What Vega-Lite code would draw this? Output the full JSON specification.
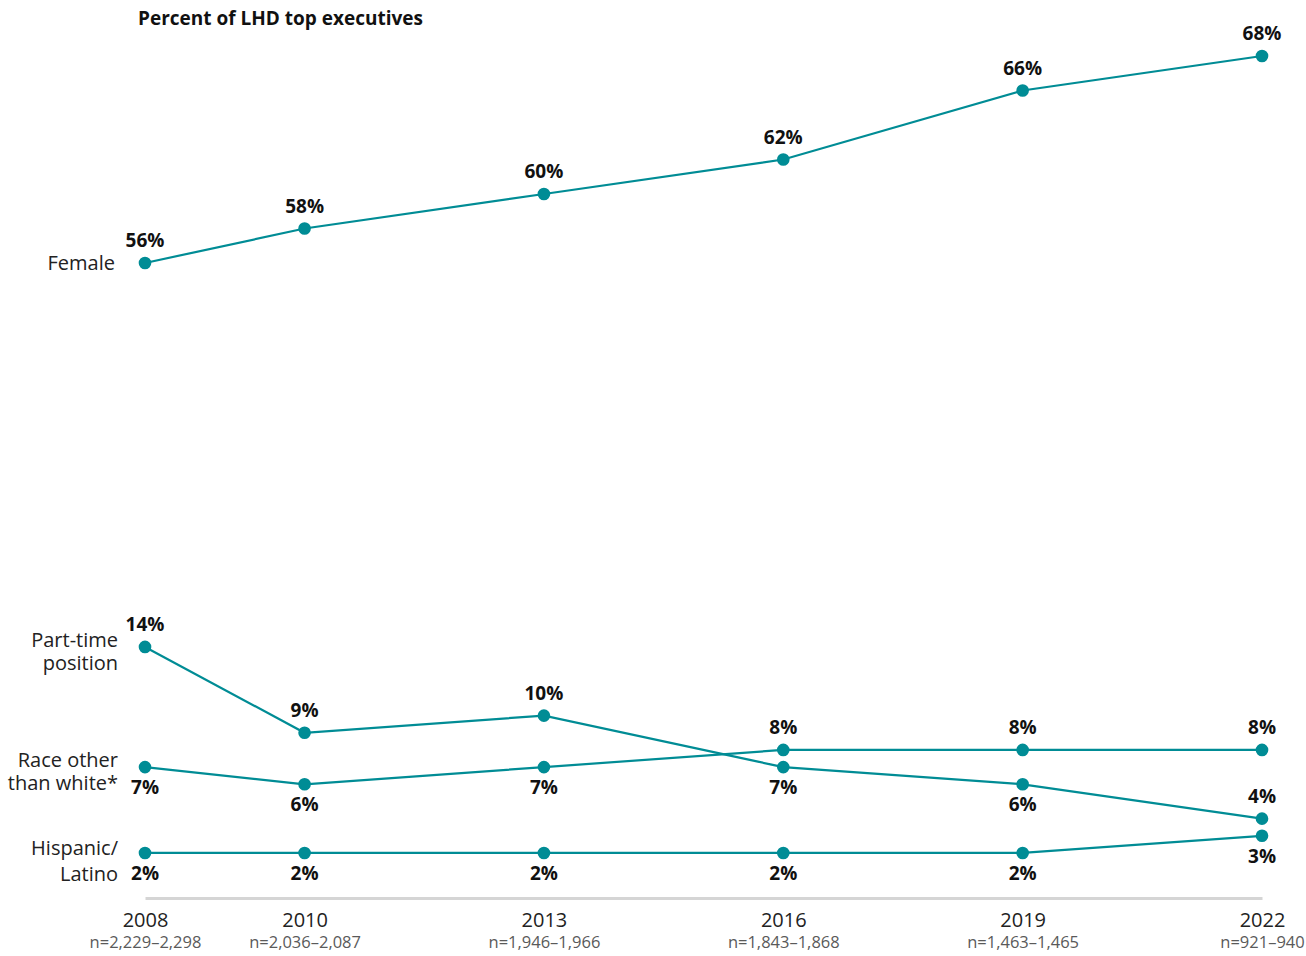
{
  "$schema": "https://vega.github.io/schema/vega-lite/v6.json",
  "autosize": {"type": "none"},
  "padding": {"left": 145, "right": 44, "top": 40, "bottom": 58},
  "width": 1117,
  "height": 858,
  "title": {"text": "Percent of LHD top executives", "anchor": "start", "frame": "group", "fontSize": 19, "fontWeight": "bold", "font": "Open Sans", "color": "#111", "dx": -7, "offset": -4},
  "config": {"view": {"stroke": null}, "font": "Open Sans", "text": {"font": "Open Sans"}},
  "datasets": {
    "main": [
      {"series": "Female", "year": 2008, "value": 56},
      {"series": "Female", "year": 2010, "value": 58},
      {"series": "Female", "year": 2013, "value": 60},
      {"series": "Female", "year": 2016, "value": 62},
      {"series": "Female", "year": 2019, "value": 66},
      {"series": "Female", "year": 2022, "value": 68},
      {"series": "Part-time\nposition", "year": 2008, "value": 14},
      {"series": "Part-time\nposition", "year": 2010, "value": 9},
      {"series": "Part-time\nposition", "year": 2013, "value": 10},
      {"series": "Part-time\nposition", "year": 2016, "value": 7},
      {"series": "Part-time\nposition", "year": 2019, "value": 6},
      {"series": "Part-time\nposition", "year": 2022, "value": 4},
      {"series": "Race other\nthan white*", "year": 2008, "value": 7},
      {"series": "Race other\nthan white*", "year": 2010, "value": 6},
      {"series": "Race other\nthan white*", "year": 2013, "value": 7},
      {"series": "Race other\nthan white*", "year": 2016, "value": 8},
      {"series": "Race other\nthan white*", "year": 2019, "value": 8},
      {"series": "Race other\nthan white*", "year": 2022, "value": 8},
      {"series": "Hispanic/\nLatino", "year": 2008, "value": 2},
      {"series": "Hispanic/\nLatino", "year": 2010, "value": 2},
      {"series": "Hispanic/\nLatino", "year": 2013, "value": 2},
      {"series": "Hispanic/\nLatino", "year": 2016, "value": 2},
      {"series": "Hispanic/\nLatino", "year": 2019, "value": 2},
      {"series": "Hispanic/\nLatino", "year": 2022, "value": 3}
    ]
  },
  "data": {"name": "main"},
  "resolve": {"axis": {"x": "independent"}},
  "encoding": {
    "x": {"field": "year", "type": "quantitative",
      "scale": {"domain": [2008, 2022], "nice": false, "zero": false},
      "axis": null},
    "y": {"field": "value", "type": "quantitative",
      "scale": {"domain": [0, 16, 54, 68], "range": [847.3, 572.6, 257.5, 16], "nice": false, "zero": false, "clamp": false},
      "axis": null}
  },
  "layer": [
    {"mark": {"type": "line", "color": "#008C95", "strokeWidth": 2.2},
      "encoding": {"detail": {"field": "series"},
        "x": {"field": "year", "type": "quantitative",
          "scale": {"domain": [2008, 2022], "nice": false, "zero": false},
          "axis": {"orient": "bottom", "values": [2008, 2010, 2013, 2016, 2019, 2022], "format": "d", "title": null, "grid": false, "ticks": false,
            "domainColor": "#d5d5d5", "domainWidth": 3, "labelFontSize": 20, "labelColor": "#222", "labelPadding": 12, "labelFont": "Open Sans", "labelOverlap": false, "labelFlush": false}}}},
    {"mark": {"type": "circle", "color": "#008C95", "opacity": 1, "size": 160},
      "encoding": {
        "x": {"field": "year", "type": "quantitative",
          "scale": {"domain": [2008, 2022], "nice": false, "zero": false},
          "axis": {"orient": "bottom", "values": [2008, 2010, 2013, 2016, 2019, 2022], "title": null, "grid": false, "ticks": false, "domain": false,
            "labelExpr": "datum.value == 2008 ? 'n=2,229–2,298' : datum.value == 2010 ? 'n=2,036–2,087' : datum.value == 2013 ? 'n=1,946–1,966' : datum.value == 2016 ? 'n=1,843–1,868' : datum.value == 2019 ? 'n=1,463–1,465' : 'n=921–940'",
            "labelFontSize": 16.5, "labelColor": "#5a5a5a", "labelPadding": 36, "labelFont": "Open Sans", "labelOverlap": false, "labelFlush": false}}}},
    {"transform": [
        {"filter": "datum.series == 'Female' || (datum.series == 'Part-time\\nposition' && datum.year != 2016 && datum.year != 2019) || (datum.series == 'Race other\\nthan white*' && datum.year >= 2016)"},
        {"calculate": "datum.value + '%'", "as": "label"}],
      "mark": {"type": "text", "fontSize": 19, "fontWeight": "bold", "color": "#111", "dy": -22, "baseline": "middle"},
      "encoding": {"text": {"field": "label"}}},
    {"transform": [
        {"filter": "!(datum.series == 'Female' || (datum.series == 'Part-time\\nposition' && datum.year != 2016 && datum.year != 2019) || (datum.series == 'Race other\\nthan white*' && datum.year >= 2016))"},
        {"calculate": "datum.value + '%'", "as": "label"}],
      "mark": {"type": "text", "fontSize": 19, "fontWeight": "bold", "color": "#111", "dy": 21, "baseline": "middle"},
      "encoding": {"text": {"field": "label"}}},
    {"transform": [{"filter": "datum.year == 2008 && datum.series == 'Female'"}],
      "mark": {"type": "text", "fontSize": 20, "color": "#222", "align": "right", "baseline": "middle", "dx": -30, "dy": 1},
      "encoding": {"text": {"field": "series"}}},
    {"transform": [{"filter": "datum.year == 2008 && (datum.series == 'Part-time\\nposition' || datum.series == 'Race other\\nthan white*')"}],
      "mark": {"type": "text", "fontSize": 20, "color": "#222", "align": "right", "baseline": "middle", "dx": -27, "dy": -6, "lineBreak": "\n", "lineHeight": 23},
      "encoding": {"text": {"field": "series"}}},
    {"transform": [{"filter": "datum.year == 2008 && datum.series == 'Hispanic/\\nLatino'"}],
      "mark": {"type": "text", "fontSize": 20, "color": "#222", "align": "right", "baseline": "middle", "dx": -27, "dy": -4, "lineBreak": "\n", "lineHeight": 26},
      "encoding": {"text": {"field": "series"}}}
  ]
}
